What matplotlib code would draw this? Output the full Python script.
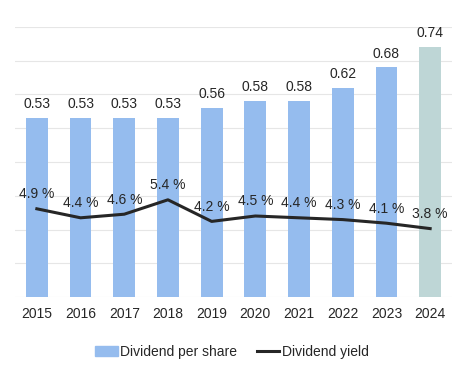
import numpy as np
import matplotlib.pyplot as plt
from matplotlib.patches import Patch
from matplotlib.lines import Line2D

plt.rcParams['font.family'] = ['Liberation Sans', 'DejaVu Sans']

years = ['2015', '2016', '2017', '2018', '2019', '2020', '2021', '2022', '2023', '2024']
dps = [0.53, 0.53, 0.53, 0.53, 0.56, 0.58, 0.58, 0.62, 0.68, 0.74]
dps_labels = ['0.53', '0.53', '0.53', '0.53', '0.56', '0.58', '0.58', '0.62', '0.68', '0.74']
yld = [4.9, 4.4, 4.6, 5.4, 4.2, 4.5, 4.4, 4.3, 4.1, 3.8]
yld_labels = ['4.9 %', '4.4 %', '4.6 %', '5.4 %', '4.2 %', '4.5 %', '4.4 %', '4.3 %', '4.1 %', '3.8 %']

blue = '#95BCEE'
teal = '#BED6D6'
txt = '#262626'

fig = plt.figure(figsize=(4.69, 3.69), dpi=100)
ax = fig.add_axes([15/469, 1-297/369, 437/469, 270/369])
x = np.arange(len(years))
colors = [blue]*(len(years)-1) + [teal]
ax.bar(x, dps, width=0.5, color=colors, zorder=2)
ax.set_xlim(-0.5, len(years)-0.5)
ax.set_ylim(0, 0.8)
ax.set_yticks(np.arange(0, 0.81, 0.1))
ax.yaxis.grid(True, color='#E6E6E6', linewidth=0.8, zorder=0)
ax.set_axisbelow(True)
ax.tick_params(axis='y', length=0, labelleft=False)
ax.tick_params(axis='x', length=0, labelsize=10, colors=txt, pad=7)
ax.set_xticks(x)
ax.set_xticklabels(years)
for s in ax.spines.values():
    s.set_visible(False)
for i, v in enumerate(dps):
    ax.annotate(dps_labels[i], (i, v), xytext=(0, 5), textcoords='offset points',
                ha='center', va='bottom', fontsize=10, color=txt)

ax2 = ax.twinx()
ax2.set_ylim(0, 15)
ax2.plot(x, yld, color=txt, linewidth=2.2, zorder=3)
ax2.set_yticks([])
for s in ax2.spines.values():
    s.set_visible(False)
for i, v in enumerate(yld):
    ax2.annotate(yld_labels[i], (i, v), xytext=(0, 5.5), textcoords='offset points',
                 ha='center', va='bottom', fontsize=10, color=txt)

handles = [Patch(color=blue, label='Dividend per share'),
           Line2D([0], [0], color=txt, linewidth=2.2, label='Dividend yield')]
fig.legend(handles=handles, loc='center', bbox_to_anchor=(232/469, 1-352/369), ncol=2,
           frameon=False, fontsize=10, handlelength=1.6, handletextpad=0.2,
           columnspacing=1.4, labelcolor=txt)

fig.savefig('out.png', dpi=100)
